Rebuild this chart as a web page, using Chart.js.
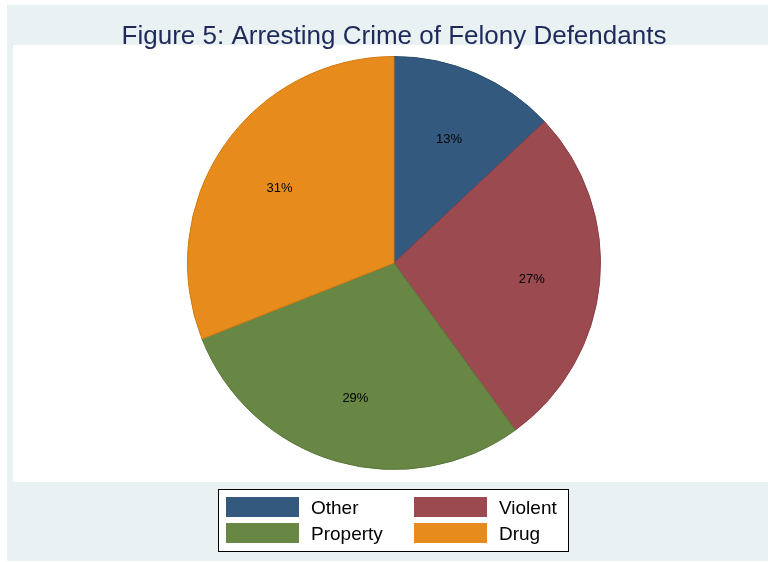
<!DOCTYPE html>
<html>
<head>
<meta charset="utf-8">
<script src="https://cdn.jsdelivr.net/npm/chart.js@4"></script>
<style>
  html, body { margin: 0; padding: 0; background: #ffffff; }
  #wrap { width: 768px; height: 562px; position: relative; }
</style>
</head>
<body>
<div id="wrap"><canvas id="pieChart" width="768" height="562"></canvas></div>
<script>
// chart values
const categories = ['Other', 'Violent', 'Property', 'Drug'];
const shares = [13, 27, 29, 31];
const sliceColors = ['#335A7E', '#9B4A50', '#688744', '#E88B1D'];
const edgeColors = ['#2A4C6C', '#8A3E44', '#59763A', '#D07A14'];
const titleText = 'Figure 5: Arresting Crime of Felony Defendants';

// background panels, title, slice labels and legend box
const stataLook = {
    id: 'stataLook',
    beforeDraw(chart) {
        const ctx = chart.ctx;
        ctx.save();
        ctx.fillStyle = '#ffffff';
        ctx.fillRect(0, 0, 768, 562);
        ctx.fillStyle = '#E9F1F3';
        ctx.fillRect(7, 5, 761, 556);
        ctx.fillStyle = '#ffffff';
        ctx.fillRect(13, 45, 755, 437);

        ctx.fillStyle = '#1E2A5A';
        ctx.font = '26px "Liberation Sans", Arial, sans-serif';
        ctx.textAlign = 'center';
        ctx.textBaseline = 'alphabetic';
        ctx.fillText(titleText, 394, 44);
        ctx.restore();
    },
    afterDatasetsDraw(chart) {
        const ctx = chart.ctx;
        const meta = chart.getDatasetMeta(0);
        ctx.save();
        ctx.fillStyle = '#000000';
        ctx.font = '13px "Liberation Sans", Arial, sans-serif';
        ctx.textAlign = 'center';
        ctx.textBaseline = 'middle';
        meta.data.forEach((arc, i) => {
            const mid = (arc.startAngle + arc.endAngle) / 2;
            const r = arc.outerRadius * 0.67;
            ctx.fillText(shares[i] + '%', arc.x + Math.cos(mid) * r, arc.y + Math.sin(mid) * r + 3);
        });

        // legend
        ctx.fillStyle = '#ffffff';
        ctx.fillRect(218, 489, 350, 62);
        ctx.strokeStyle = '#000000';
        ctx.lineWidth = 1;
        ctx.strokeRect(218.5, 489.5, 350, 62);
        ctx.font = '19px "Liberation Sans", Arial, sans-serif';
        ctx.textAlign = 'left';
        ctx.textBaseline = 'middle';
        categories.forEach((name, i) => {
            const col = i % 2;
            const row = Math.floor(i / 2);
            const x = 226 + col * 188;
            const y = 497 + row * 26;
            ctx.fillStyle = sliceColors[i];
            ctx.fillRect(x, y, 73, 20);
            ctx.fillStyle = '#000000';
            ctx.fillText(name, x + 85, y + 12);
        });
        ctx.restore();
    }
};

new Chart(document.getElementById('pieChart').getContext('2d'), {
    type: 'pie',
    data: {
        labels: categories,
        datasets: [{
            data: shares,
            backgroundColor: sliceColors,
            borderColor: edgeColors,
            borderWidth: 1
        }]
    },
    options: {
        responsive: false,
        animation: false,
        layout: { padding: { top: 56, bottom: 92, left: 187, right: 167 } },
        plugins: {
            legend: { display: false },
            tooltip: { enabled: false }
        }
    },
    plugins: [stataLook]
});
</script>
</body>
</html>
